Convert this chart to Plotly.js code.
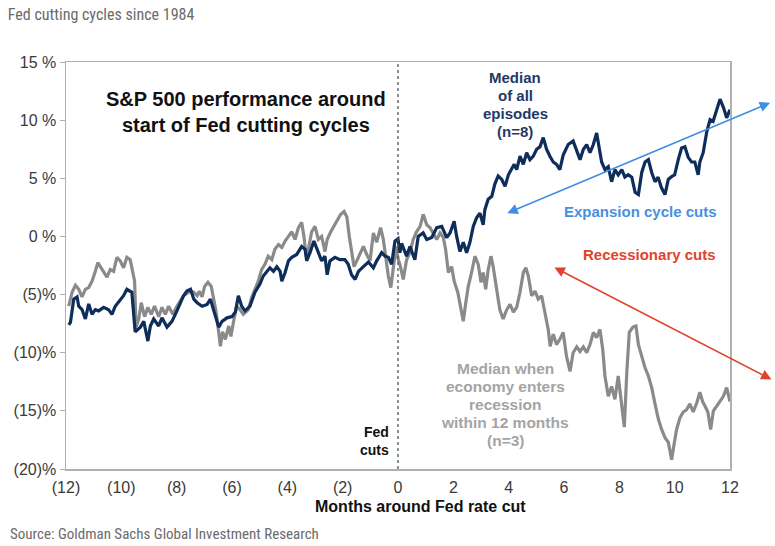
<!DOCTYPE html>
<html>
<head>
<meta charset="utf-8">
<script src="https://cdn.plot.ly/plotly-3.0.1.min.js"></script>
<style>
  body { margin: 0; background: #fff; }
  #chart { width: 775px; height: 546px; }
</style>
</head>
<body>
<div id="chart"></div>
<script>
  // months around first cut, and median S&P 500 move (%) - all 8 episodes
  var monthsAll = [-11.9,-11.84,-11.72,-11.6,-11.54,-11.42,-11.3,-11.18,-11.06,-10.94,-10.82,-10.64,-10.46,-10.34,-10.22,-10.04,-9.92,-9.8,-9.68,-9.62,
    -9.5,-9.31,-9.19,-9.04,-8.95,-8.83,-8.65,-8.53,-8.35,-8.17,-7.99,-7.87,-7.75,-7.63,-7.5,-7.38,-7.26,-7.08,-6.9,-6.78,
    -6.66,-6.48,-6.36,-6.18,-6.0,-5.88,-5.77,-5.65,-5.53,-5.35,-5.17,-4.99,-4.87,-4.75,-4.63,-4.5,-4.38,-4.26,-4.2,-4.08,
    -3.96,-3.84,-3.66,-3.48,-3.36,-3.3,-3.18,-3.04,-2.92,-2.76,-2.64,-2.56,-2.46,-2.28,-2.1,-1.92,-1.8,-1.68,-1.55,-1.43,
    -1.25,-1.07,-0.89,-0.77,-0.59,-0.47,-0.35,-0.23,-0.11,0.0,0.07,0.13,0.31,0.43,0.61,0.73,0.91,1.04,1.22,1.4,
    1.58,1.76,1.88,2.03,2.12,2.24,2.36,2.48,2.6,2.72,2.84,2.96,3.08,3.14,3.26,3.39,3.5,3.62,3.75,3.87,
    3.99,4.11,4.2,4.29,4.41,4.53,4.65,4.77,4.89,5.01,5.13,5.25,5.37,5.49,5.61,5.73,5.85,5.97,6.09,6.15,
    6.33,6.46,6.58,6.7,6.82,6.94,7.06,7.18,7.28,7.36,7.48,7.6,7.72,7.84,7.96,8.09,8.2,8.32,8.45,8.57,
    8.69,8.81,8.93,9.05,9.17,9.29,9.4,9.52,9.65,9.77,9.89,10.0,10.13,10.25,10.37,10.49,10.61,10.73,10.85,10.91,
    11.03,11.16,11.28,11.39,11.52,11.64,11.76,11.88,12.0];
  var medianAll = [-7.6,-7.4,-5.4,-5.2,-6.0,-6.3,-7.1,-5.8,-6.7,-6.3,-6.4,-6.1,-6.3,-6.7,-6.0,-5.4,-5.1,-4.55,-4.7,-4.8,
    -8.2,-7.8,-7.3,-9.0,-7.7,-7.1,-7.7,-7.0,-7.8,-7.3,-6.4,-5.7,-5.1,-4.7,-4.55,-5.4,-5.7,-6.0,-5.85,-5.4,
    -6.3,-7.8,-7.3,-7.0,-6.9,-6.5,-5.1,-6.0,-6.4,-6.0,-4.8,-4.1,-3.4,-3.0,-2.7,-3.0,-2.6,-3.0,-3.85,-3.1,
    -2.1,-1.8,-1.55,-0.86,-1.1,-2.1,-1.4,-0.4,-1.1,-2.1,-1.7,-3.3,-2.1,-1.8,-2.0,-2.0,-2.4,-3.3,-3.7,-3.0,
    -2.6,-2.2,-2.7,-2.1,-1.4,-1.7,-1.8,-2.4,-0.4,-0.2,-1.4,-0.6,-1.7,-0.86,-2.0,0.0,0.3,-0.26,-0.1,0.75,
    0.86,-0.1,0.3,1.3,0.0,-1.3,-0.5,-1.4,-0.5,0.86,1.6,2.0,1.0,2.3,3.2,3.45,4.5,5.2,4.9,4.3,
    5.3,5.75,6.2,5.75,6.9,6.2,7.2,6.6,6.9,7.5,7.7,8.5,7.5,6.9,6.4,6.2,5.75,7.0,7.6,7.9,
    8.2,7.3,6.6,7.5,7.9,7.2,7.9,8.9,7.7,6.4,5.75,6.0,4.7,5.75,5.3,5.75,5.1,5.3,5.1,3.8,
    3.6,5.5,6.4,6.6,5.5,4.7,5.1,4.2,3.6,4.9,5.15,5.3,6.6,7.6,7.7,6.8,6.4,6.4,5.3,6.4,
    7.2,9.0,10.05,9.9,10.9,11.8,11.1,10.2,10.9];

  // median when the economy enters recession within 12 months (3 episodes)
  var monthsRec = [-11.9,-11.78,-11.66,-11.54,-11.42,-11.3,-11.18,-11.06,-10.94,-10.85,-10.76,-10.64,-10.52,-10.4,-10.28,-10.16,-10.04,-9.92,-9.8,-9.68,
    -9.6,-9.52,-9.47,-9.37,-9.28,-9.16,-9.04,-8.92,-8.8,-8.65,-8.53,-8.41,-8.29,-8.14,-7.99,-7.87,-7.75,-7.63,-7.5,-7.38,
    -7.26,-7.18,-7.08,-6.99,-6.87,-6.75,-6.66,-6.58,-6.48,-6.42,-6.34,-6.24,-6.12,-6.04,-5.95,-5.83,-5.71,-5.59,-5.41,-5.29,
    -5.17,-5.05,-4.93,-4.81,-4.69,-4.56,-4.45,-4.32,-4.2,-4.08,-3.96,-3.84,-3.72,-3.6,-3.48,-3.4,-3.32,-3.24,-3.12,-3.0,
    -2.88,-2.76,-2.64,-2.56,-2.43,-2.31,-2.19,-2.07,-1.95,-1.85,-1.76,-1.68,-1.59,-1.49,-1.37,-1.25,-1.13,-1.01,-0.89,-0.77,
    -0.63,-0.53,-0.43,-0.35,-0.26,-0.17,-0.07,0.01,0.07,0.19,0.31,0.43,0.55,0.67,0.8,0.91,1.04,1.16,1.28,1.4,
    1.52,1.64,1.72,1.82,1.94,2.03,2.16,2.28,2.36,2.45,2.54,2.66,2.78,2.9,3.0,3.08,3.17,3.26,3.36,3.44,
    3.56,3.68,3.8,3.93,4.05,4.17,4.29,4.41,4.53,4.62,4.71,4.83,4.95,5.07,5.19,5.31,5.43,5.5,5.61,5.73,
    5.85,5.97,6.09,6.22,6.33,6.46,6.58,6.7,6.82,6.94,7.06,7.18,7.3,7.4,7.48,7.6,7.72,7.84,7.96,8.09,
    8.18,8.27,8.36,8.49,8.6,8.69,8.81,8.93,9.05,9.17,9.29,9.41,9.53,9.65,9.77,9.89,9.97,10.07,10.19,10.31,
    10.43,10.55,10.67,10.8,10.91,11.01,11.1,11.2,11.3,11.4,11.52,11.64,11.76,11.88,12.0];
  var medianRec = [-6.0,-4.8,-4.2,-4.55,-5.2,-4.55,-4.4,-3.85,-3.0,-2.25,-2.6,-3.0,-3.5,-2.85,-3.0,-1.8,-2.1,-2.7,-1.8,-2.0,
    -3.1,-3.85,-7.8,-7.1,-5.7,-6.9,-6.1,-6.7,-6.0,-6.9,-6.1,-6.7,-6.0,-6.7,-6.0,-5.6,-5.1,-4.9,-4.7,-4.8,
    -5.1,-4.7,-5.2,-4.3,-3.95,-4.3,-5.4,-6.4,-8.25,-9.45,-8.2,-8.85,-7.7,-8.6,-7.4,-6.0,-6.3,-6.7,-6.3,-5.25,
    -4.55,-3.85,-2.85,-2.4,-1.7,-2.0,-1.1,-0.7,-0.95,-0.4,0.0,0.4,-0.26,0.75,1.2,0.0,-1.7,-1.1,0.4,0.86,
    -0.26,0.0,-1.3,-0.26,0.4,0.86,1.45,1.9,2.15,1.7,0.0,-1.3,-2.6,-2.1,-1.4,-0.86,-1.55,-2.1,0.3,-0.5,
    0.75,-0.26,-2.0,-3.4,-4.4,-2.6,-0.86,-2.0,-2.4,-3.7,-2.0,-1.4,-0.26,0.4,0.86,1.9,1.0,0.75,0.3,-0.26,
    0.3,-0.1,-1.1,-3.1,-2.6,-3.85,-4.8,-6.3,-7.3,-5.7,-4.3,-3.1,-1.7,-2.4,-3.95,-3.1,-4.55,-2.85,-1.7,-2.6,
    -4.3,-6.3,-7.1,-6.3,-5.85,-6.5,-6.1,-4.8,-3.1,-2.7,-3.4,-5.1,-4.7,-5.4,-5.1,-6.5,-8.0,-9.45,-8.4,-9.3,
    -8.85,-8.25,-10.3,-11.6,-10.0,-9.5,-9.9,-9.5,-10.0,-9.3,-8.25,-8.7,-8.0,-9.7,-12.0,-13.75,-12.9,-14.0,-12.0,-14.6,
    -16.4,-11.7,-8.25,-7.8,-7.7,-9.3,-10.3,-11.3,-12.0,-13.0,-14.4,-15.7,-16.6,-17.3,-17.7,-19.2,-18.0,-16.6,-15.6,-15.1,
    -14.9,-14.4,-15.1,-14.3,-13.4,-14.2,-14.6,-15.1,-16.6,-15.0,-14.6,-14.2,-13.75,-13.0,-14.2];

  var xTickVals = [-12,-10,-8,-6,-4,-2,0,2,4,6,8,10,12];
  var xTickText = ['(12)','(10)','(8)','(6)','(4)','(2)','0','2','4','6','8','10','12'];
  var yTickVals = [15,10,5,0,-5,-10,-15,-20];
  var yTickText = ['15 %','10 %','5 %','0 %','(5)%','(10)%','(15)%','(20)%'];

  var font = 'Liberation Sans, Arial, sans-serif';
  var narrow = 'Liberation Sans Narrow, Roboto Condensed, Liberation Sans, sans-serif';

  // stacked label, one annotation per line so the line gap can be tight
  function block(lines, x, yTopPx, gapPx, size, color, anchor) {
    return lines.map(function (t, i) {
      return {x: x, y: 1 - (yTopPx + i * gapPx - 62) / 407, xref: 'x', yref: 'paper',
        showarrow: false, text: '<b>' + t + '</b>', xanchor: anchor || 'center',
        yanchor: 'middle', font: {size: size, color: color}};
    });
  }

  var traces = [
    {
      x: monthsRec, y: medianRec, type: 'scatter', mode: 'lines',
      line: {color: '#8a8a8a', width: 3.2}, hoverinfo: 'skip'
    },
    {
      x: monthsAll, y: medianAll, type: 'scatter', mode: 'lines',
      line: {color: '#0e2d5a', width: 3.2}, hoverinfo: 'skip'
    }
  ];

  var notes = [
    {x: -5.5, y: 10.7, xref: 'x', yref: 'y', showarrow: false,
     text: '<b>S&P 500 performance around<br>start of Fed cutting cycles</b>',
     font: {size: 20, color: '#111'}, align: 'center'},
    {x: 8.75, y: 2.15, xref: 'x', yref: 'y', showarrow: false,
     text: '<b>Expansion cycle cuts</b>', font: {size: 15, color: '#4a8fdf'}},
    {x: 9.1, y: -1.55, xref: 'x', yref: 'y', showarrow: false,
     text: '<b>Recessionary cuts</b>', font: {size: 15, color: '#e0432b'}},
    // double arrows
    {x: 13.45, y: 11.5, ax: 3.9, ay: 1.95, xref: 'x', yref: 'y', axref: 'x', ayref: 'y',
     text: '', showarrow: true, arrowside: 'end+start', arrowhead: 2, arrowsize: 1.3,
     arrowwidth: 1.6, arrowcolor: '#3f8ee2'},
    {x: 13.5, y: -12.3, ax: 5.6, ay: -2.6, xref: 'x', yref: 'y', axref: 'x', ayref: 'y',
     text: '', showarrow: true, arrowside: 'end+start', arrowhead: 2, arrowsize: 1.3,
     arrowwidth: 1.6, arrowcolor: '#e0432b'},
    {x: 0.83, y: -0.093, xref: 'x', yref: 'paper', showarrow: false, yanchor: 'middle',
     text: '<b>Months around Fed rate cut</b>', font: {size: 16, color: '#111'}},
    {x: -58 / 664, y: -0.159, xref: 'paper', yref: 'paper', showarrow: false,
     xanchor: 'left', yanchor: 'middle',
     text: 'Source: Goldman Sachs Global Investment Research',
     font: {family: narrow, size: 15, color: '#6b6b6b'}}
  ];
  notes = notes
    .concat(block(['Median', 'of all', 'episodes', '(n=8)'], 4.23, 77, 18.2, 15, '#1f3a66'))
    .concat(block(['Median when', 'economy enters', 'recession', 'within 12 months', '(n=3)'],
                  3.87, 368, 18, 15.5, '#a4a4a4'))
    .concat(block(['Fed', 'cuts'], -0.25, 432, 18, 14, '#111', 'right'));

  var layout = {
    width: 775, height: 546,
    margin: {l: 66, r: 45, t: 62, b: 77},
    paper_bgcolor: '#fff', plot_bgcolor: '#fff',
    showlegend: false,
    font: {family: font, color: '#333'},
    title: {
      text: 'Fed cutting cycles since 1984',
      font: {family: narrow, size: 16, color: '#6b6b6b'},
      xref: 'container', x: 0.01, xanchor: 'left',
      yref: 'container', y: 0.974, yanchor: 'middle'
    },
    xaxis: {
      range: [-12, 12], tickvals: xTickVals, ticktext: xTickText,
      showgrid: false, zeroline: false, showline: true, mirror: true,
      linecolor: '#b0b0b0', linewidth: 1.5, ticks: '', ticklabelstandoff: 3,
      tickfont: {size: 16, color: '#3a3a3a'}
    },
    // zero line with its little ticks
    xaxis2: {
      overlaying: 'x', anchor: 'free', position: 20 / 35, side: 'bottom',
      range: [-12, 12], tickvals: xTickVals, showticklabels: false,
      showgrid: false, zeroline: false, showline: true,
      linecolor: '#b0b0b0', linewidth: 1.5, ticks: 'outside', ticklen: 4,
      tickcolor: '#b0b0b0', layer: 'below traces'
    },
    yaxis: {
      range: [-20, 15], tickvals: yTickVals, ticktext: yTickText,
      showgrid: false, zeroline: false, showline: true, mirror: true,
      linecolor: '#b0b0b0', linewidth: 1.5, ticks: 'outside', ticklen: 5,
      tickcolor: '#b0b0b0', tickfont: {size: 16, color: '#3a3a3a'}
    },
    shapes: [
      {type: 'line', xref: 'x', yref: 'paper', x0: 0, x1: 0, y0: 0, y1: 1,
       line: {color: '#555', width: 1.3, dash: 'dot'}, layer: 'above'}
    ],
    annotations: notes
  };

  Plotly.newPlot('chart', traces, layout, {displayModeBar: false, staticPlot: true});
</script>
</body>
</html>
